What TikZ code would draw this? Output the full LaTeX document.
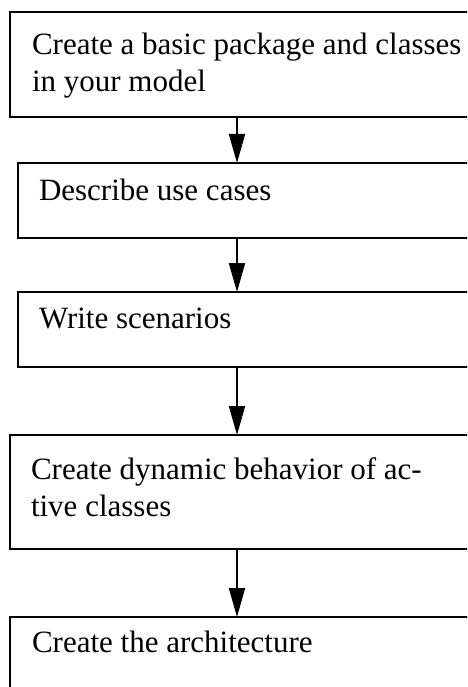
\documentclass[tikz,border=0pt]{standalone}
\usepackage{fontspec}
\setmainfont{Liberation Serif}
\usetikzlibrary{arrows.meta}
\begin{document}
\begin{tikzpicture}[x=1pt,y=-1pt,
  stepbox/.style={draw,line width=2pt,rectangle,inner sep=0pt,outer sep=0pt,anchor=north west},
  lbl/.style={anchor=base west,inner sep=0pt,outer sep=0pt,font=\fontsize{31}{37}\selectfont},
  arr/.style={line width=2pt,-{Triangle[length=29pt,width=16pt]}}]
\useasboundingbox (0,0) rectangle (467,687);
\clip (0,0) rectangle (467,687);
\coordinate (ax) at (237,0);
\node[stepbox,minimum width=480pt,minimum height=105pt] (b1) at (10,12) {};
\node[stepbox,minimum width=470pt,minimum height=75pt] (b2) at (18,163) {};
\node[stepbox,minimum width=470pt,minimum height=75pt] (b3) at (18,292) {};
\node[stepbox,minimum width=480pt,minimum height=114pt] (b4) at (10,435) {};
\node[stepbox,minimum width=480pt,minimum height=110pt] (b5) at (10,617) {};
\node[lbl] (t1) at (32,55) {\begin{tabular}[t]{@{}l@{}}Create a basic package and classes\\ in your model\end{tabular}};
\node[lbl] (t2) at (39,200) {Describe use cases};
\node[lbl] (t3) at (39,328) {Write scenarios};
\node[lbl] (t4) at (31,479) {\begin{tabular}[t]{@{}l@{}}Create dynamic behavior of ac-\\ tive classes\end{tabular}};
\node[lbl] (t5) at (32,652) {Create the architecture};
\draw[arr] (b1.south -| ax) -- (b2.north -| ax);
\draw[arr] (b2.south -| ax) -- (b3.north -| ax);
\draw[arr] (b3.south -| ax) -- (b4.north -| ax);
\draw[arr] (b4.south -| ax) -- (b5.north -| ax);
\end{tikzpicture}
\end{document}
